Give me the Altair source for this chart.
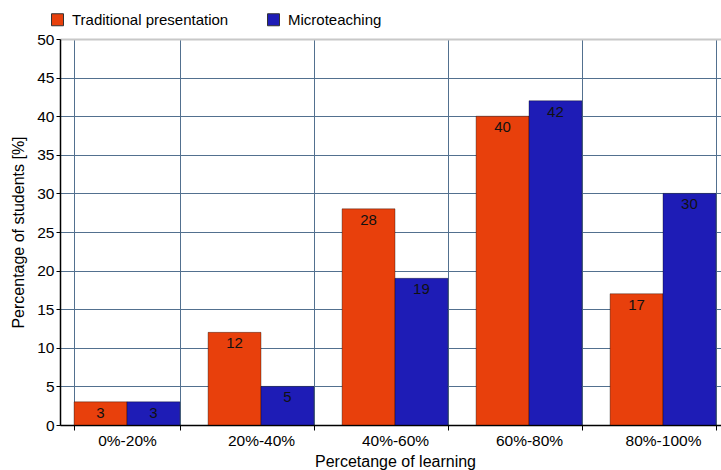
import altair as alt
import pandas as pd

# Learning-range categories and the share of students in each, per teaching method
categories = ["0%-20%", "20%-40%", "40%-60%", "60%-80%", "80%-100%"]
traditional = [3, 12, 28, 40, 17]
microteaching = [3, 5, 19, 42, 30]
series_names = ["Traditional presentation", "Microteaching"]
series_colors = ["#E8400C", "#1E1CB6"]
y_ticks = [0, 5, 10, 15, 20, 25, 30, 35, 40, 45, 50]

rows = []
for cat, t, m in zip(categories, traditional, microteaching):
    rows.append({"range": cat, "method": series_names[0], "pct": t})
    rows.append({"range": cat, "method": series_names[1], "pct": m})
df = pd.DataFrame(rows)

FONT = "Liberation Sans"
GRID = "#52708f"

x_enc = alt.X(
    "range:N",
    sort=categories,
    title="Percetange of learning",
    scale=alt.Scale(paddingInner=0.21, paddingOuter=0.105, range=[0, 670]),
    axis=alt.Axis(
        labelAngle=0,
        tickBand="extent",
        grid=True,
        gridColor=GRID,
        gridWidth=1,
        domainColor="#000000",
        tickColor="#000000",
        tickSize=5,
        labelPadding=3,
        titlePadding=5,
    ),
)
y_enc = alt.Y(
    "pct:Q",
    title="Percentage of students [%]",
    scale=alt.Scale(domain=[0, 50], nice=False),
    axis=alt.Axis(
        values=y_ticks,
        labelOverlap=False,
        grid=True,
        gridColor=alt.condition("datum.value == 50", alt.value("#c8c8c8"), alt.value(GRID)),
        gridWidth=alt.condition("datum.value == 50", alt.value(2), alt.value(1)),
        domainColor="#000000",
        tickColor="#000000",
        tickSize=4,
        labelPadding=2,
        titlePadding=10,
    ),
)
xoff = alt.XOffset("method:N", sort=series_names)

bars = alt.Chart(df).mark_bar(stroke="#000000", strokeOpacity=0.35, strokeWidth=1).encode(
    x=x_enc,
    xOffset=xoff,
    y=y_enc,
    color=alt.Color(
        "method:N",
        sort=series_names,
        scale=alt.Scale(domain=series_names, range=series_colors),
        legend=alt.Legend(
            title=None,
            orient="none",
            legendX=-10,
            legendY=-27,
            direction="horizontal",
            symbolType="square",
            symbolSize=144,
            symbolStrokeColor="#333333",
            symbolStrokeWidth=1,
            symbolOpacity=1,
            labelFontSize=15,
            labelOffset=7,
            columnPadding=36,
        ),
    ),
)

labels = alt.Chart(df).mark_text(
    baseline="top", dy=4, fontSize=15, font=FONT, color="#111111"
).encode(
    x=x_enc,
    xOffset=xoff,
    y=y_enc,
    text=alt.Text("pct:Q"),
)

chart = (
    alt.layer(bars, labels)
    .properties(
        width=661,
        height=386,
        autosize=alt.AutoSizeParams(type="none"),
        padding={"left": 60, "top": 39, "right": 0, "bottom": 45},
    )
    .configure_view(stroke=None)
    .configure_axis(
        labelFont=FONT,
        titleFont=FONT,
        labelFontSize=15.5,
        titleFontSize=16,
        titleFontWeight="normal",
        labelColor="#000000",
        titleColor="#000000",
        domainWidth=1.5,
    )
    .configure_legend(labelFont=FONT, labelColor="#000000")
)

chart.save("out.html", embed_options={"renderer": "svg", "actions": False})
